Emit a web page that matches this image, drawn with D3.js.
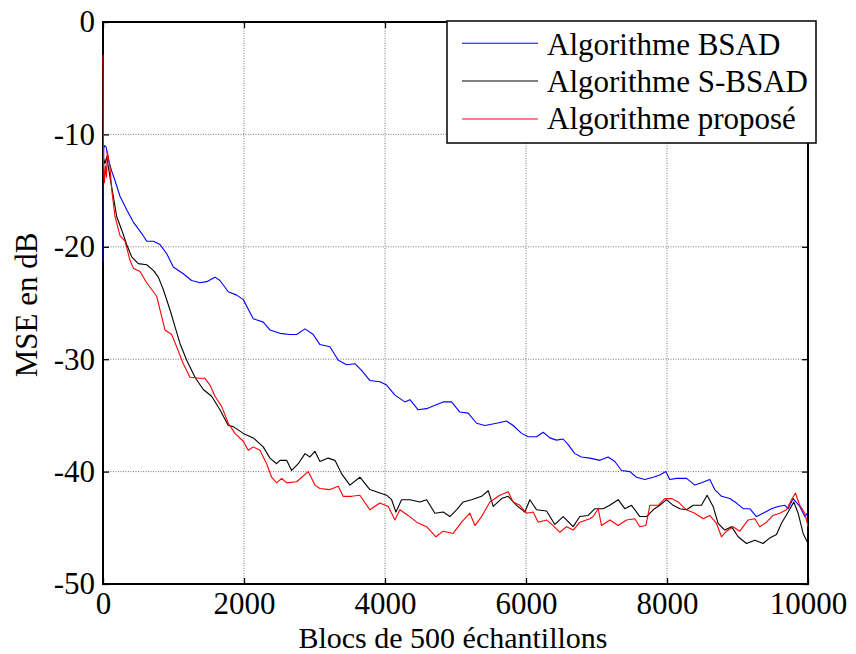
<!DOCTYPE html>
<html>
<head>
<meta charset="utf-8">
<script src="https://cdn.jsdelivr.net/npm/d3@7"></script>
<style>
  html, body { margin: 0; padding: 0; background: #fff; }
  svg { display: block; }
</style>
</head>
<body>
<svg id="chart" width="856" height="654"></svg>
<script>
// MSE learning curves (dB) against the block index
const xTicks = [0, 2000, 4000, 6000, 8000, 10000];
const yTicks = [0, -10, -20, -30, -40, -50];
const seriesNames = ["Algorithme BSAD", "Algorithme S-BSAD", "Algorithme proposé"];
const seriesColors = ["#0000ff", "#000000", "#ff0000"];

const bsadX = [0, 10, 20, 43, 76, 120, 170, 241, 336, 430, 548, 620, 714, 808, 903, 997, 1139, 1257, 1375, 1470, 1588, 1659, 1777, 1896, 1990, 2131, 2273, 2368, 2510, 2652, 2747, 2865, 2982, 3077, 3219, 3337, 3455, 3573, 3668, 3786, 3928, 4023, 4141, 4282, 4353, 4471, 4590, 4708, 4826, 4944, 5062, 5180, 5299, 5417, 5583, 5724, 5818, 5937, 6031, 6150, 6244, 6338, 6433, 6527, 6598, 6693, 6787, 6906, 7047, 7165, 7260, 7355, 7473, 7568, 7686, 7804, 7898, 7983, 8040, 8135, 8277, 8395, 8489, 8607, 8678, 8773, 8891, 8986, 9080, 9174, 9269, 9363, 9482, 9576, 9671, 9718, 9789, 9883, 9955, 10000];
const bsadY = [-21.3, -11.3, -11.0, -11.1, -12.2, -13.2, -14.1, -15.5, -16.7, -17.8, -18.8, -19.5, -19.5, -19.8, -20.6, -21.8, -22.4, -23.0, -23.2, -23.1, -22.7, -23.0, -24.0, -24.3, -24.7, -26.4, -26.7, -27.4, -27.7, -27.8, -27.8, -27.3, -27.8, -28.7, -28.9, -30.1, -30.5, -30.4, -31.0, -31.9, -32.0, -32.3, -33.2, -33.8, -33.6, -34.5, -34.4, -34.1, -33.8, -33.8, -34.7, -34.8, -35.7, -35.9, -35.7, -35.5, -35.9, -36.6, -36.9, -36.9, -36.5, -37.0, -37.2, -37.1, -37.6, -38.4, -38.7, -38.8, -39.0, -38.7, -39.1, -39.9, -40.0, -40.5, -40.7, -40.5, -40.3, -40.0, -40.7, -40.6, -40.6, -41.2, -41.0, -40.7, -41.6, -42.2, -42.4, -42.8, -43.3, -43.3, -44.0, -43.7, -43.3, -43.1, -43.0, -43.3, -42.4, -43.1, -44.0, -43.6];

const sbsadX = [0, 28, 52, 61, 99, 146, 194, 265, 336, 407, 501, 620, 714, 785, 855, 950, 1021, 1092, 1187, 1305, 1422, 1541, 1659, 1777, 1848, 1990, 2131, 2273, 2368, 2463, 2510, 2605, 2676, 2770, 2865, 2935, 3006, 3077, 3195, 3290, 3385, 3502, 3644, 3786, 3928, 4023, 4094, 4155, 4235, 4353, 4495, 4590, 4708, 4826, 4920, 5015, 5109, 5228, 5370, 5464, 5535, 5654, 5747, 5866, 5984, 6055, 6150, 6292, 6409, 6527, 6669, 6764, 6882, 6977, 7095, 7189, 7307, 7402, 7497, 7615, 7710, 7804, 7898, 7993, 8087, 8182, 8277, 8371, 8489, 8569, 8654, 8725, 8820, 8915, 9009, 9128, 9246, 9363, 9458, 9553, 9624, 9718, 9799, 9860, 9931, 10000];
const sbsadY = [-12.0, -12.6, -12.0, -12.3, -13.8, -15.5, -17.3, -18.5, -19.8, -20.9, -21.5, -21.6, -22.1, -22.7, -23.8, -25.6, -27.1, -28.6, -30.1, -31.6, -32.7, -33.3, -34.5, -35.9, -36.0, -36.6, -37.0, -37.8, -38.8, -39.3, -39.0, -39.0, -39.9, -39.3, -38.4, -38.7, -38.2, -39.1, -38.8, -39.0, -40.2, -41.2, -40.5, -41.6, -41.9, -42.1, -42.5, -43.6, -42.5, -42.5, -42.7, -42.5, -43.7, -43.6, -44.0, -43.4, -42.7, -42.5, -42.2, -41.7, -43.1, -42.4, -42.2, -43.0, -43.6, -42.5, -43.4, -43.5, -44.7, -44.0, -44.9, -44.0, -43.9, -43.3, -43.3, -43.0, -42.5, -43.3, -43.0, -44.0, -44.0, -43.4, -43.0, -42.5, -43.0, -43.3, -43.4, -43.0, -43.0, -42.1, -43.1, -44.6, -45.2, -44.9, -45.8, -46.4, -46.1, -46.4, -45.9, -45.6, -44.6, -43.6, -42.7, -43.7, -45.5, -46.4];

const proposeX = [0, 8, 20, 35, 50, 61, 80, 99, 123, 170, 241, 312, 383, 430, 525, 620, 690, 761, 832, 879, 974, 1045, 1139, 1234, 1375, 1446, 1517, 1588, 1683, 1777, 1872, 1990, 2060, 2131, 2226, 2321, 2392, 2463, 2534, 2605, 2747, 2911, 3006, 3077, 3219, 3337, 3407, 3526, 3644, 3786, 3928, 4046, 4141, 4211, 4329, 4448, 4590, 4722, 4826, 4967, 5086, 5204, 5275, 5370, 5488, 5629, 5747, 5818, 5913, 6008, 6102, 6173, 6292, 6385, 6480, 6575, 6669, 6764, 6906, 6953, 7024, 7071, 7189, 7307, 7426, 7544, 7615, 7700, 7757, 7875, 7969, 8064, 8158, 8277, 8395, 8513, 8607, 8701, 8773, 8844, 8938, 9033, 9151, 9246, 9316, 9411, 9505, 9600, 9695, 9766, 9822, 9883, 9955, 10000];
const proposeY = [-2.9, -12.5, -14.3, -12.8, -13.8, -11.5, -12.2, -12.9, -14.9, -17.3, -19.0, -19.5, -21.2, -21.9, -22.2, -23.2, -23.8, -24.4, -26.2, -27.4, -27.8, -28.9, -30.4, -31.6, -31.7, -31.7, -32.3, -33.3, -34.2, -35.7, -36.6, -37.3, -38.1, -37.8, -38.1, -39.3, -40.5, -41.0, -40.6, -41.0, -40.9, -40.0, -41.2, -41.5, -41.6, -41.3, -42.2, -42.2, -42.1, -43.4, -42.8, -43.1, -44.3, -43.4, -43.9, -44.5, -44.9, -45.8, -45.3, -45.5, -44.5, -43.7, -44.8, -44.0, -42.7, -42.1, -41.8, -42.7, -43.0, -43.7, -43.6, -44.5, -44.3, -44.8, -45.4, -44.9, -45.2, -44.5, -44.2, -44.0, -43.3, -44.8, -44.3, -44.8, -44.3, -44.2, -44.9, -44.8, -43.0, -43.0, -42.4, -42.4, -42.7, -43.4, -43.7, -44.2, -43.9, -44.6, -45.8, -45.3, -44.9, -45.3, -44.3, -44.2, -44.9, -44.5, -43.9, -43.7, -43.4, -42.5, -41.9, -43.0, -43.7, -44.9];

const xTitle = "Blocs de 500 échantillons";
const yTitle = "MSE en dB";

const FONT = '"Liberation Serif", "Times New Roman", serif';
const svg = d3.select("#chart");
const W = 856, H = 654;
const margin = { left: 103, top: 22, right: W - 808, bottom: H - 584 };
const x = d3.scaleLinear().domain([0, 10000]).range([margin.left, W - margin.right]);
const y = d3.scaleLinear().domain([-50, 0]).range([H - margin.bottom, margin.top]);
const fmt = d => String(d);

svg.append("rect").attr("width", W).attr("height", H).attr("fill", "#fff");

// dotted grid
const grid = svg.append("g").attr("stroke", "#555").attr("stroke-width", 1)
  .attr("stroke-dasharray", "1,1.5").attr("opacity", 0.8);
xTicks.slice(1, -1).forEach(t => grid.append("line")
  .attr("x1", x(t)).attr("x2", x(t)).attr("y1", y(-50)).attr("y2", y(0)));
yTicks.slice(1, -1).forEach(t => grid.append("line")
  .attr("x1", x(0)).attr("x2", x(10000)).attr("y1", y(t)).attr("y2", y(t)));

// axes with inward ticks
const tickFont = 31;
function styleAxis(g) {
  g.attr("font-family", null).attr("font-size", null);
  g.select(".domain").remove();
  g.selectAll(".tick line").attr("stroke", "#000").attr("stroke-width", 1.3);
  g.selectAll(".tick text").style("font-size", tickFont + "px")
    .style("font-family", FONT).attr("fill", "#000");
}
svg.append("g").attr("transform", `translate(0,${y(-50)})`)
  .call(d3.axisBottom(x).tickValues(xTicks).tickFormat(fmt).tickSizeInner(-6).tickSizeOuter(0).tickPadding(8))
  .call(styleAxis);
svg.append("g").attr("transform", `translate(${x(0)},0)`)
  .call(d3.axisLeft(y).tickValues(yTicks).tickFormat(fmt).tickSizeInner(-6).tickSizeOuter(0).tickPadding(8))
  .call(styleAxis);
svg.append("g").attr("transform", `translate(0,${y(0)})`)
  .call(d3.axisTop(x).tickValues(xTicks).tickFormat("").tickSizeInner(-6).tickSizeOuter(0))
  .call(styleAxis);
svg.append("g").attr("transform", `translate(${x(10000)},0)`)
  .call(d3.axisRight(y).tickValues(yTicks).tickFormat("").tickSizeInner(-6).tickSizeOuter(0))
  .call(styleAxis);

// box
svg.append("rect")
  .attr("x", x(0)).attr("y", y(0))
  .attr("width", x(10000) - x(0)).attr("height", y(-50) - y(0))
  .attr("fill", "none").attr("stroke", "#000").attr("stroke-width", 2);

// data lines (drawn over the frame, as the start transients sit on the left edge)
const series = [
  { xs: bsadX, ys: bsadY },
  { xs: sbsadX, ys: sbsadY },
  { xs: proposeX, ys: proposeY }
];
const line = d3.line().x(d => x(d[0])).y(d => y(d[1]));
series.forEach((s, i) => {
  svg.append("path")
    .datum(s.xs.map((v, k) => [v, s.ys[k]]))
    .attr("fill", "none")
    .attr("stroke", seriesColors[i])
    .attr("stroke-width", 1.1)
    .attr("stroke-linejoin", "round")
    .attr("d", line);
});

// axis titles
svg.append("text").attr("x", 453).attr("y", 647.5).attr("text-anchor", "middle")
  .style("font-family", FONT).style("font-size", "30px").text(xTitle);
svg.append("text").attr("transform", "translate(37,305) rotate(-90)")
  .attr("text-anchor", "middle")
  .style("font-family", FONT).style("font-size", "31px").text(yTitle);

// legend
const lg = svg.append("g");
lg.append("rect").attr("x", 447).attr("y", 21).attr("width", 369).attr("height", 122)
  .attr("fill", "#fff").attr("stroke", "#000").attr("stroke-width", 1.5);
const rowY = [43.3, 81, 119];
const baseY = [55, 92, 129];
seriesNames.forEach((name, i) => {
  lg.append("line").attr("x1", 462).attr("x2", 538).attr("y1", rowY[i]).attr("y2", rowY[i])
    .attr("stroke", seriesColors[i]).attr("stroke-width", 1.1);
  lg.append("text").attr("x", 547).attr("y", baseY[i])
    .style("font-family", FONT).style("font-size", "31px").text(name);
});
</script>
</body>
</html>
